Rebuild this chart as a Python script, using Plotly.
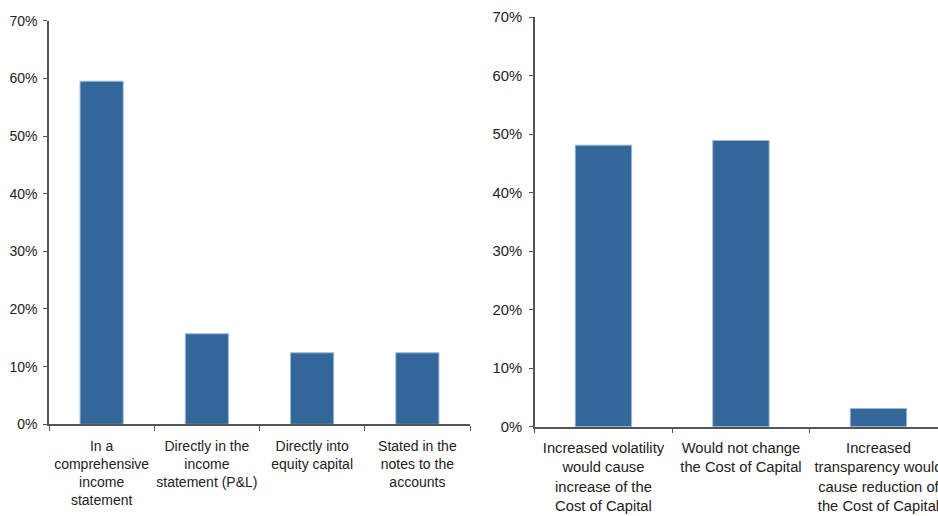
import plotly.graph_objects as go

# Where should fair value changes be reported?
left_categories = [
    "In a<br>comprehensive<br>income<br>statement",
    "Directly in the<br>income<br>statement (P&L)",
    "Directly into<br>equity capital",
    "Stated in the<br>notes to the<br>accounts",
]
left_values = [59.5, 15.7, 12.4, 12.4]

# Expected effect on the cost of capital
right_categories = [
    "Increased volatility<br>would cause<br>increase of the<br>Cost of Capital",
    "Would not change<br>the Cost of Capital",
    "Increased<br>transparency would<br>cause reduction of<br>the Cost of Capital",
]
right_values = [48.1, 48.9, 3.1]

y_ticks = [0, 10, 20, 30, 40, 50, 60, 70]
y_tick_labels = [f"{v}%" for v in y_ticks]

BAR_COLOR = "#336699"
EDGE_COLOR = "#9db7d2"
FONT = "Liberation Sans, Arial, sans-serif"
TEXT_COLOR = "#222222"
AXIS_COLOR = "#555555"

W, H = 952, 516

fig = go.Figure()
fig.add_trace(go.Bar(x=left_categories, y=left_values, xaxis="x", yaxis="y",
                     marker=dict(color=BAR_COLOR, line=dict(color=EDGE_COLOR, width=1)),
                     showlegend=False, hoverinfo="skip"))
fig.add_trace(go.Bar(x=right_categories, y=right_values, xaxis="x2", yaxis="y2",
                     marker=dict(color=BAR_COLOR, line=dict(color=EDGE_COLOR, width=1)),
                     showlegend=False, hoverinfo="skip"))


def px_x(a, b):
    return [a / W, b / W]


def px_y(top, bottom):
    return [1 - bottom / H, 1 - top / H]


def x_axis(domain, anchor, size, standoff):
    return dict(
        domain=domain, anchor=anchor,
        type="category", showline=True, linecolor=AXIS_COLOR, linewidth=1.5,
        ticks="outside", tickson="boundaries", ticklen=5, tickcolor=AXIS_COLOR,
        tickfont=dict(family=FONT, size=size, color=TEXT_COLOR),
        ticklabelstandoff=standoff, automargin=False,
        showgrid=False, zeroline=False, fixedrange=True, tickangle=0,
    )


def y_axis(domain, anchor, size, standoff):
    return dict(
        domain=domain, anchor=anchor,
        range=[0, 70], tickvals=y_ticks, ticktext=y_tick_labels,
        showline=True, linecolor=AXIS_COLOR, linewidth=1.5,
        ticks="outside", ticklen=4, tickcolor=AXIS_COLOR,
        tickfont=dict(family=FONT, size=size, color=TEXT_COLOR),
        ticklabelstandoff=standoff, automargin=False,
        showgrid=False, zeroline=False, fixedrange=True,
    )


fig.update_layout(
    width=W, height=H,
    margin=dict(l=0, r=0, t=0, b=0),
    paper_bgcolor="white", plot_bgcolor="white",
    bargap=0.59,
    xaxis=x_axis(px_x(49, 470), "y", 14, 8),
    yaxis=y_axis(px_y(20.7, 424.3), "x", 14, 3),
    xaxis2=x_axis(px_x(534.7, 947.2), "y2", 14.75, 7),
    yaxis2=y_axis(px_y(17, 426.7), "x2", 14.75, 4),
)

fig.write_html(
    "out.html",
    post_script="document.body.style.overflow='hidden';"
                "document.documentElement.style.overflow='hidden';",
)
